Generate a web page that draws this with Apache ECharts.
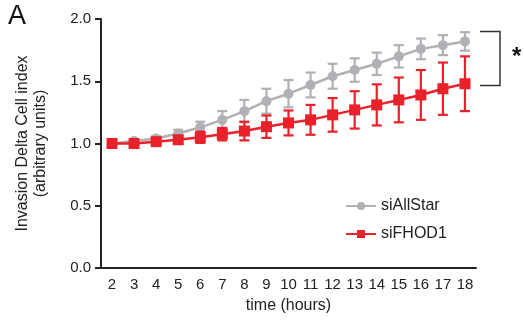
<!DOCTYPE html>
<html><head><meta charset="utf-8">
<script src="https://cdn.jsdelivr.net/npm/echarts@6/dist/echarts.min.js"></script>
<style>html,body{margin:0;padding:0;background:#fff}#c{width:524px;height:324px}</style>
</head><body><div id="c"></div>
<script>
const hours = ['2','3','4','5','6','7','8','9','10','11','12','13','14','15','16','17','18'];
const allStarMean = [1.0,1.02,1.04,1.08,1.13,1.19,1.26,1.34,1.40,1.47,1.54,1.59,1.64,1.70,1.76,1.79,1.82];
const allStarErr  = [0.01,0.015,0.02,0.03,0.045,0.07,0.09,0.10,0.11,0.10,0.10,0.094,0.09,0.09,0.083,0.08,0.074];
const fhodMean = [1.0,1.0,1.015,1.03,1.05,1.075,1.10,1.135,1.165,1.19,1.23,1.27,1.31,1.35,1.39,1.44,1.48];
const fhodErr  = [0.01,0.015,0.02,0.03,0.045,0.05,0.075,0.09,0.10,0.12,0.135,0.15,0.165,0.18,0.20,0.21,0.22];
const yTicks = ['0.0','0.5','1.0','1.5','2.0'];

const gray = '#b0b0b5', red = '#e8212b';
const font = 'Liberation Sans, Arial, sans-serif';

function errSeries(mean, err, color, z) {
  return {
    type: 'custom', z: z, silent: true,
    data: mean.map((m, i) => [i, m - err[i], m + err[i]]),
    renderItem: function (params, api) {
      const lo = api.coord([api.value(0), api.value(1)]);
      const hi = api.coord([api.value(0), api.value(2)]);
      const w = 5;
      const st = { stroke: color, lineWidth: 2.2 };
      return { type: 'group', children: [
        { type: 'line', shape: { x1: lo[0], y1: lo[1], x2: hi[0], y2: hi[1] }, style: st },
        { type: 'line', shape: { x1: lo[0]-w, y1: lo[1], x2: lo[0]+w, y2: lo[1] }, style: st },
        { type: 'line', shape: { x1: hi[0]-w, y1: hi[1], x2: hi[0]+w, y2: hi[1] }, style: st }
      ]};
    },
    encode: { x: 0, y: [1, 2] }
  };
}

const chart = echarts.init(document.getElementById('c'), null, { renderer: 'canvas' });
chart.setOption({
  animation: false,
  textStyle: { fontFamily: font },
  grid: { left: 101, right: 48, top: 19, bottom: 56, containLabel: false, outerBoundsMode: 'none' },
  xAxis: {
    type: 'category', data: hours, boundaryGap: true,
    name: 'time (hours)', nameLocation: 'middle', nameGap: 30,
    nameTextStyle: { fontSize: 16, color: '#222', fontFamily: font },
    axisLine: { lineStyle: { color: '#222', width: 2 } },
    axisTick: { alignWithLabel: true, length: 6, lineStyle: { color: '#222', width: 2 } },
    axisLabel: { fontSize: 15, color: '#222', margin: 9, fontFamily: font, interval: 0 },
    splitLine: { show: false }
  },
  yAxis: {
    type: 'value', min: 0, max: 2, interval: 0.5,
    name: 'Invasion Delta Cell index\n(arbitrary units)', nameLocation: 'middle', nameGap: 51,
    nameTextStyle: { fontSize: 16, color: '#222', lineHeight: 18, fontFamily: font },
    axisLine: { show: true, lineStyle: { color: '#222', width: 2 } },
    axisTick: { show: true, length: 6, lineStyle: { color: '#222', width: 2 } },
    axisLabel: { fontSize: 15, color: '#222', margin: 10, fontFamily: font,
      formatter: v => yTicks[Math.round(v / 0.5)] },
    splitLine: { show: false }
  },
  legend: {
    left: 340, top: 193, orient: 'vertical', itemGap: 12, itemWidth: 30, itemHeight: 10,
    data: ['siAllStar', 'siFHOD1'],
    textStyle: { fontSize: 16, color: '#222', fontFamily: font }
  },
  series: [
    errSeries(allStarMean, allStarErr, gray, 1),
    { name: 'siAllStar', type: 'line', z: 2, data: allStarMean, symbol: 'circle', symbolSize: 10,
      lineStyle: { color: gray, width: 2.5 }, itemStyle: { color: gray } },
    errSeries(fhodMean, fhodErr, red, 3),
    { name: 'siFHOD1', type: 'line', z: 4, data: fhodMean, symbol: 'rect', symbolSize: 11,
      lineStyle: { color: red, width: 2.5 }, itemStyle: { color: red } }
  ],
  graphic: [
    { type: 'text', left: 8, top: 3, style: { text: 'A', fontSize: 27, fill: '#111', fontFamily: font } },
    { type: 'polyline', shape: { points: [[480, 31.5], [500, 31.5], [500, 85.5], [480, 85.5]] },
      style: { stroke: '#333', lineWidth: 1.5, fill: null } },
    { type: 'text', left: 512, top: 45, style: { text: '*', fontSize: 24, fill: '#111', fontFamily: font, fontWeight: 'bold' } }
  ]
});
</script></body></html>
